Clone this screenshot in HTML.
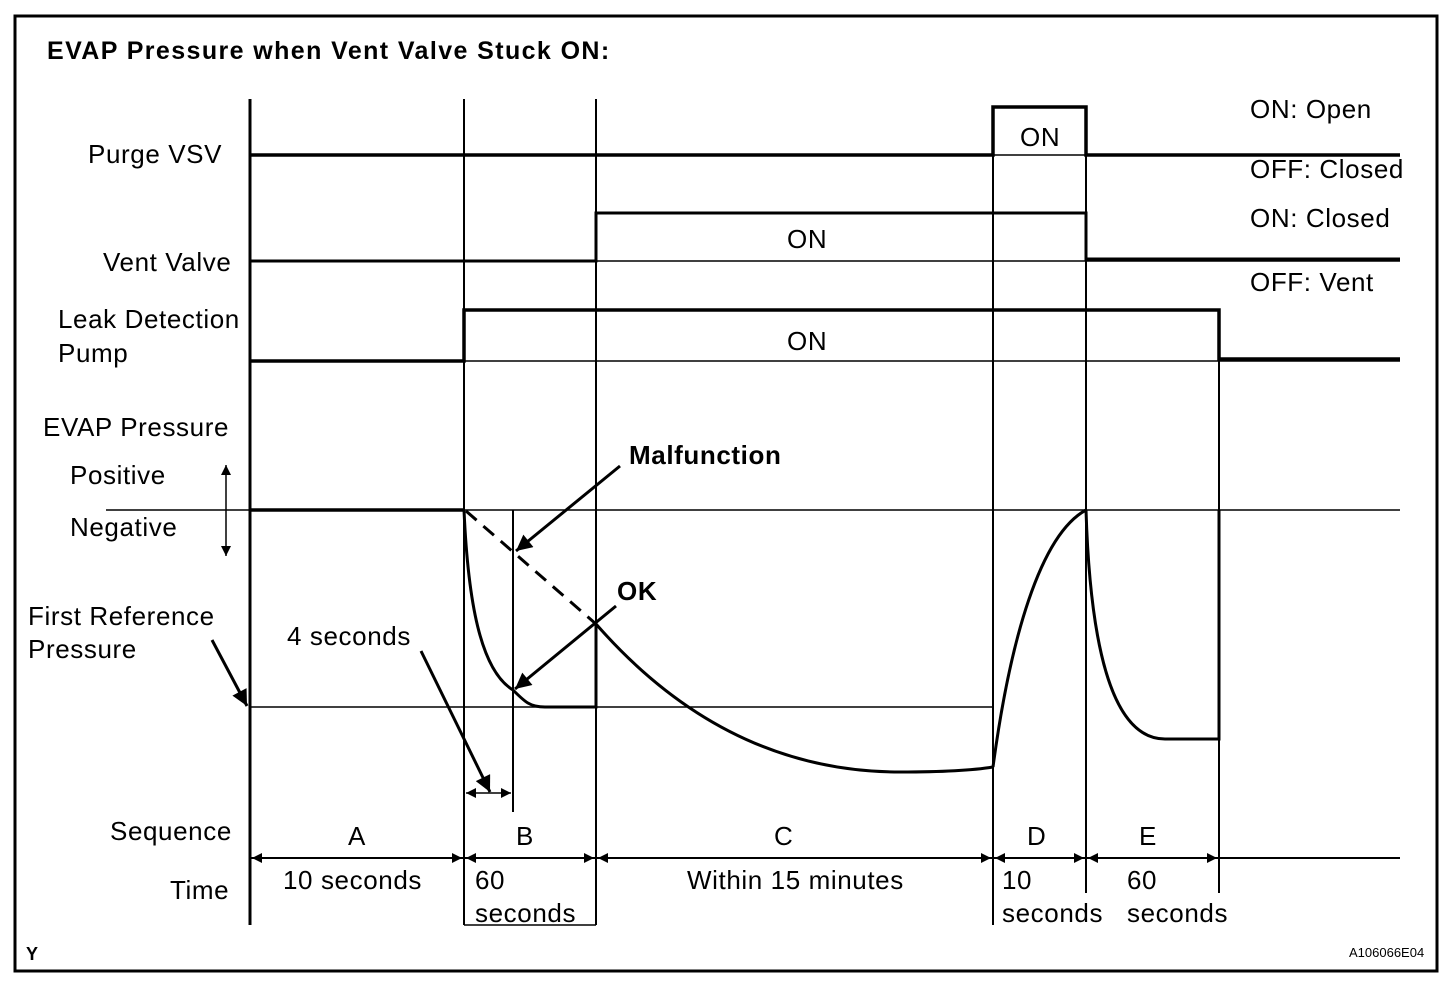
<!DOCTYPE html>
<html><head><meta charset="utf-8"><style>
html,body{margin:0;padding:0;background:#fff;}
svg{display:block;}
text{font-family:"Liberation Sans",Arial,sans-serif;fill:#000;}
.t{font-size:26px;letter-spacing:0.6px;}
</style></head><body>
<svg width="1456" height="992" viewBox="0 0 1456 992" xmlns="http://www.w3.org/2000/svg">
<defs>
<marker id="ah" viewBox="0 0 10 10" refX="10" refY="5" markerWidth="14" markerHeight="10" markerUnits="userSpaceOnUse" orient="auto"><path d="M0,0 L10,5 L0,10 z" fill="#000"/></marker>
<marker id="ahb" viewBox="0 0 10 10" refX="10" refY="5" markerWidth="26" markerHeight="16" markerUnits="userSpaceOnUse" orient="auto"><path d="M0,0 L10,5 L0,10 z" fill="#000"/></marker>
</defs>
<rect x="15" y="16" width="1422" height="955" fill="none" stroke="#000" stroke-width="3"/>
<text x="47" y="59" style="font-weight:bold;font-size:25px;letter-spacing:1.4px">EVAP Pressure when Vent Valve Stuck ON:</text>

<g stroke="#000" fill="none">
<line x1="250" y1="99" x2="250" y2="925" stroke-width="3"/>
<line x1="464" y1="99" x2="464" y2="925" stroke-width="2"/>
<line x1="596" y1="99" x2="596" y2="925" stroke-width="2"/>
<line x1="993" y1="107" x2="993" y2="925" stroke-width="2"/>
<line x1="1086" y1="107" x2="1086" y2="893" stroke-width="2"/>
<line x1="1219" y1="310" x2="1219" y2="893" stroke-width="2"/>
<line x1="513" y1="510" x2="513" y2="812" stroke-width="2"/>
<line x1="464" y1="925" x2="596" y2="925" stroke-width="1.5"/>

<polyline points="250,155 993,155 993,107 1086,107 1086,155 1400,155" stroke-width="3.5"/>
<line x1="993" y1="155" x2="1086" y2="155" stroke-width="1.5"/>
<line x1="250" y1="261" x2="1400" y2="261" stroke-width="1.5"/>
<polyline points="250,261 596,261 596,213 1086,213 1086,259 1400,259" stroke-width="3"/>
<line x1="250" y1="361" x2="1400" y2="361" stroke-width="1.5"/>
<polyline points="250,361 464,361 464,310 1219,310 1219,359 1400,359" stroke-width="3.5"/>

<line x1="106" y1="510" x2="1400" y2="510" stroke-width="1.5"/>
<line x1="250" y1="707" x2="993" y2="707" stroke-width="1.5"/>
<line x1="250" y1="510" x2="464" y2="510" stroke-width="3.5"/>
<path d="M464,510 C468,600 480,670 513,690 C525,702 530,707 545,707 L596,707 L596,624" stroke-width="3"/>
<line x1="466" y1="511" x2="596" y2="624" stroke-width="3" stroke-dasharray="14,9"/>
<path d="M596,624 C680,720 780,772 900,772 C950,772 975,770 993,767" stroke-width="3"/>
<path d="M993,767 C1010,640 1040,535 1086,510" stroke-width="3"/>
<path d="M1086,510 C1090,640 1110,739 1165,739 L1219,739 L1219,510" stroke-width="3"/>

<line x1="250" y1="858" x2="1400" y2="858" stroke-width="2"/>
<g stroke-width="2" marker-end="url(#ah)">
<line x1="300" y1="858" x2="252" y2="858"/><line x1="420" y1="858" x2="462" y2="858"/>
<line x1="510" y1="858" x2="466" y2="858"/><line x1="550" y1="858" x2="594" y2="858"/>
<line x1="640" y1="858" x2="598" y2="858"/><line x1="950" y1="858" x2="991" y2="858"/>
<line x1="1030" y1="858" x2="995" y2="858"/><line x1="1050" y1="858" x2="1084" y2="858"/>
<line x1="1120" y1="858" x2="1088" y2="858"/><line x1="1180" y1="858" x2="1217" y2="858"/>
<line x1="489" y1="793" x2="466" y2="793" stroke-width="1.5"/><line x1="489" y1="793" x2="511" y2="793" stroke-width="1.5"/>
<line x1="226" y1="510" x2="226" y2="465" stroke-width="1.5"/><line x1="226" y1="510" x2="226" y2="556" stroke-width="1.5"/>
</g>
<g stroke-width="3" marker-end="url(#ahb)">
<line x1="620" y1="466" x2="516" y2="551"/>
<line x1="616" y1="606" x2="515" y2="689"/>
<line x1="212" y1="640" x2="247" y2="706"/>
<line x1="421" y1="651" x2="490" y2="792"/>
</g>
</g>

<g class="t">
<text class="t" x="88" y="163">Purge VSV</text>
<text class="t" x="103" y="271">Vent Valve</text>
<text class="t" x="58" y="328">Leak Detection</text>
<text class="t" x="58" y="362">Pump</text>
<text class="t" x="43" y="436">EVAP Pressure</text>
<text class="t" x="70" y="484">Positive</text>
<text class="t" x="70" y="536">Negative</text>
<text class="t" x="28" y="625">First Reference</text>
<text class="t" x="28" y="658">Pressure</text>
<text class="t" x="287" y="645">4 seconds</text>
<text class="t" x="629" y="464" style="font-weight:bold">Malfunction</text>
<text class="t" x="617" y="600" style="font-weight:bold">OK</text>
<text class="t" x="1020" y="146">ON</text>
<text class="t" x="787" y="248">ON</text>
<text class="t" x="787" y="350">ON</text>
<text class="t" x="1250" y="118">ON: Open</text>
<text class="t" x="1250" y="178">OFF: Closed</text>
<text class="t" x="1250" y="227">ON: Closed</text>
<text class="t" x="1250" y="291">OFF: Vent</text>
<text class="t" x="110" y="840">Sequence</text>
<text class="t" x="170" y="899">Time</text>
<text class="t" x="348" y="845">A</text>
<text class="t" x="516" y="845">B</text>
<text class="t" x="774" y="845">C</text>
<text class="t" x="1027" y="845">D</text>
<text class="t" x="1139" y="845">E</text>
<text class="t" x="283" y="889">10 seconds</text>
<text class="t" x="475" y="889">60</text>
<text class="t" x="475" y="922">seconds</text>
<text class="t" x="687" y="889">Within 15 minutes</text>
<text class="t" x="1002" y="889">10</text>
<text class="t" x="1002" y="922">seconds</text>
<text class="t" x="1127" y="889">60</text>
<text class="t" x="1127" y="922">seconds</text>
</g>
<text x="26" y="960" style="font-size:18px;font-weight:bold">Y</text>
<text x="1349" y="957" style="font-size:13px">A106066E04</text>
</svg>
</body></html>
